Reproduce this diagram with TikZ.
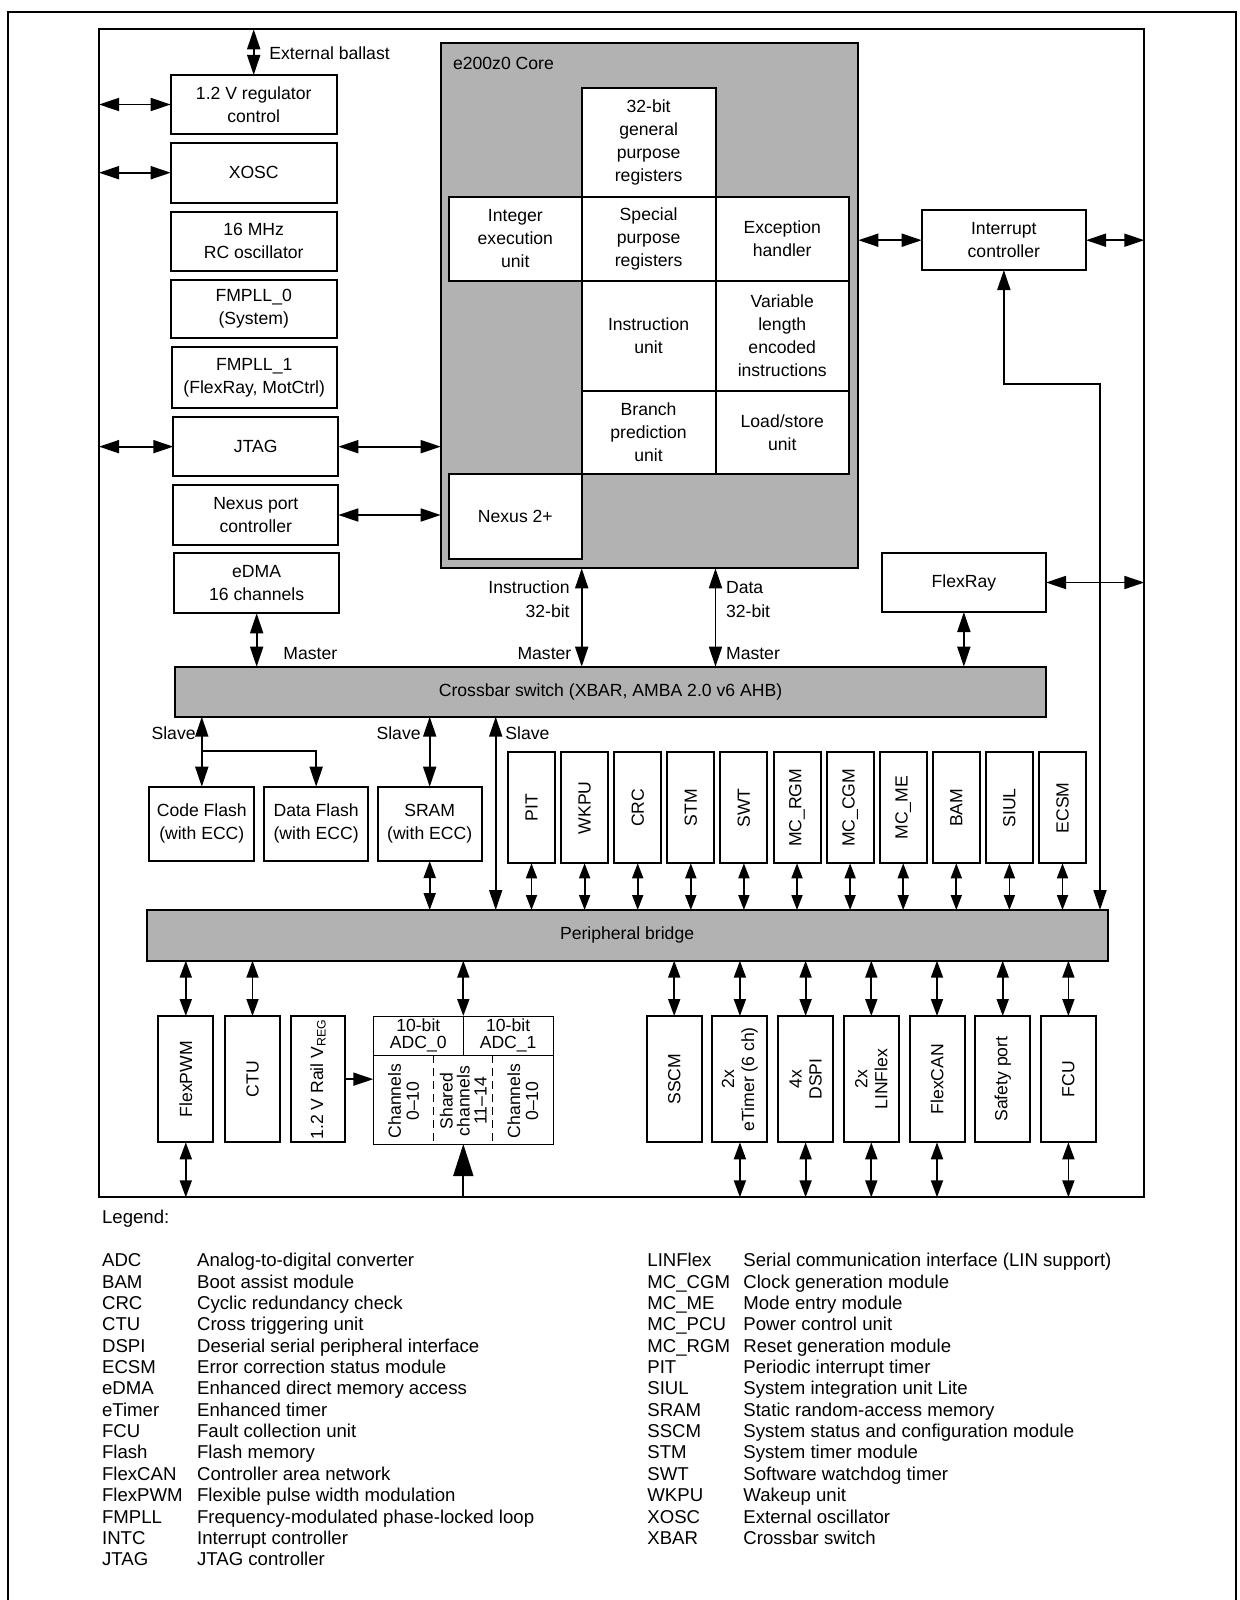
\documentclass[tikz,border=0pt]{standalone}
\usepackage{fontspec}
\setmainfont{Liberation Sans}
\usetikzlibrary{arrows.meta,calc}
\newcommand\mkbox[7][]{\node[blkbox,#1,minimum width={0.5*((#5)-(#3))*1pt},minimum height={0.5*((#6)-(#4))*1pt}] (#2) at ({((#3)+(#5))/2},{((#4)+(#6))/2}) {#7};}
\tikzset{
  blkbox/.style={draw, line width=1pt, fill=white, inner sep=0pt, outer sep=0pt, align=center, font=\fontsize{8.8}{11.5}\selectfont},
  gbox/.style={fill=black!30},
  framebox/.style={fill=none},
  thinbox/.style={line width=0.5pt},
  rot/.style={rotate=90, align=center, inner sep=0pt, font=\fontsize{8.8}{10}\selectfont},
  lbl/.style={inner sep=0pt, font=\fontsize{8.8}{11}\selectfont},
  leg/.style={inner sep=0pt, anchor=base west, font=\fontsize{9.3}{11}\selectfont},
  dbl/.style={line width=0.9pt, arrows={Triangle[length=10pt,width=6.5pt]-Triangle[length=10pt,width=6.5pt]}},
  dblm/.style={line width=0.9pt, arrows={Triangle[length=8.5pt,width=6pt]-Triangle[length=8.5pt,width=6pt]}},
  dbls/.style={line width=0.9pt, arrows={Triangle[length=7.5pt,width=5.5pt]-Triangle[length=7.5pt,width=5.5pt]}},
  sa/.style={line width=0.9pt, arrows={-Triangle[length=10pt,width=6.5pt]}},
  bigup/.style={line width=0.9pt, arrows={-Triangle[length=16pt,width=10pt]}},
}
\begin{document}
\begin{tikzpicture}[x=0.5pt,y=-0.5pt]
\useasboundingbox (0,0) rectangle (1240,1600);
% outer open frame
\draw[line width=1pt] (8.3,1600) -- (8.3,11.7) -- (1235.7,11.7) -- (1235.7,1600);
% inner frame
\mkbox[framebox]{frame}{99}{29.3}{1144.3}{1197.3}{}

% core
\mkbox[gbox]{core}{440.7}{43.3}{858.3}{568.3}{}
\node[lbl, anchor=base west] (corelbl) at (452.7,69.6) {e200z0 Core};
\mkbox{gpr}{581.7}{87.8}{715.5}{197}{32-bit\\general\\purpose\\registers}
\mkbox{ieu}{449}{197}{581.7}{281}{Integer\\execution\\unit}
\mkbox{spr}{581.7}{197}{715.5}{281}{Special\\purpose\\registers}
\mkbox{exc}{715.5}{197}{849}{281}{Exception\\handler}
\mkbox{iu}{581.7}{281}{715.5}{391}{Instruction\\unit}
\mkbox{vle}{715.5}{281}{849}{391}{Variable\\length\\encoded\\instructions}
\mkbox{bpu}{581.7}{391}{715.5}{474.4}{Branch\\prediction\\unit}
\mkbox{lsu}{715.5}{391}{849}{474.4}{Load/store\\unit}
\mkbox{nex}{449}{474.4}{581.7}{559}{Nexus 2+}

% left column
\mkbox{reg}{170.7}{75}{336.7}{134}{1.2 V regulator\\control}
\mkbox{xosc}{170.7}{142.7}{336.7}{202.7}{XOSC}
\mkbox{rc}{170.7}{211.7}{336.7}{270.7}{16 MHz\\RC oscillator}
\mkbox{pll0}{170.7}{280}{336.7}{338.3}{FMPLL\_0\\(System)}
\mkbox{pll1}{171.7}{347.3}{336.7}{408.3}{FMPLL\_1\\(FlexRay, MotCtrl)}
\mkbox{jtag}{173.3}{417.3}{338.3}{476}{JTAG}
\mkbox{npc}{173.3}{485}{338.3}{545}{Nexus port\\controller}
\mkbox{edma}{174}{553.3}{339.3}{613.3}{eDMA\\16 channels}

% right side
\mkbox{intc}{921.7}{210.4}{1086}{270}{Interrupt\\controller}
\mkbox{fr}{881.7}{553}{1046}{612}{FlexRay}

% buses
\mkbox[gbox]{xbar}{175}{666.7}{1046}{716.7}{Crossbar switch (XBAR, AMBA 2.0 v6 AHB)}
\mkbox[gbox]{bridge}{146.7}{910}{1107.5}{960.7}{Peripheral bridge}

% memories
\mkbox{cf}{149.3}{786.7}{254.3}{861}{Code Flash\\(with ECC)}
\mkbox{df}{264}{786.7}{368.3}{861}{Data Flash\\(with ECC)}
\mkbox{sram}{377.7}{786.7}{481.7}{861}{SRAM\\(with ECC)}

% top peripherals
\foreach \t [count=\i from 0] in {PIT,WKPU,CRC,STM,SWT,MC\_RGM,MC\_CGM,MC\_ME,BAM,SIUL,ECSM}{
  \mkbox{p\i}{508+\i*53.1}{752.3}{555+\i*53.1}{863.3}{\rotatebox{90}{\t}}
}
\foreach \i in {0,...,10}{\draw[dbls] (p\i.south) -- (p\i.south |- bridge.north);}

% bottom right peripherals
\foreach \t [count=\i from 0] in {SSCM,{2x\\eTimer (6 ch)},{4x\\DSPI},{2x\\LINFlex},FlexCAN,Safety port,FCU}{
  \mkbox{q\i}{646.7+\i*65.7}{1016}{701.7+\i*65.7}{1142.3}{}
  \node[rot] (qt\i) at (q\i.center) {\t};
}
\foreach \i in {0,...,6}{\draw[dblm] (q\i.north) -- (q\i.north |- bridge.south);}
\foreach \i in {1,2,3,4,6}{\draw[dblm] (q\i.south) -- (q\i.south |- frame.south);}

% bottom left peripherals
\mkbox{pwm}{158.3}{1016}{213.3}{1142.3}{}
\node[rot] (pwmt) at (pwm.center) {FlexPWM};
\mkbox{ctu}{225}{1016}{280}{1142.3}{}
\node[rot] (ctut) at (ctu.center) {CTU};
\mkbox{rail}{291}{1016}{345}{1142.3}{}
\node[rot] (railt) at (rail.center) {1.2 V Rail V\textsubscript{REG}};

% ADC
\mkbox[thinbox]{adc0}{373.3}{1016}{463.3}{1055}{}
\node[lbl, align=center, font=\fontsize{8.8}{8.5}\selectfont] (adc0t) at (adc0.center) {10-bit\\ADC\_0};
\mkbox[thinbox]{adc1}{463.3}{1016}{553}{1055}{}
\node[lbl, align=center, font=\fontsize{8.8}{8.5}\selectfont] (adc1t) at (adc1.center) {10-bit\\ADC\_1};
\mkbox[thinbox]{adcb}{373.3}{1055}{553}{1144}{}
\draw[line width=0.5pt, dash pattern=on 4pt off 2.5pt] (433.7,1055) -- (433.7,1144);
\draw[line width=0.5pt, dash pattern=on 4pt off 2.5pt] (492.7,1055) -- (492.7,1144);
\node[rot, font=\fontsize{8.8}{9}\selectfont] (ch0) at (403.5,1101) {Channels\\0--10};
\node[rot, font=\fontsize{8.8}{8.5}\selectfont] (chs) at (463.2,1101) {Shared\\channels\\11--14};
\node[rot, font=\fontsize{8.8}{9}\selectfont] (ch1) at (522.8,1101) {Channels\\0--10};
\coordinate (adcd) at (adc0.north east);

% connectors: left column
\draw[dbl] (reg.north) -- (reg.north |- frame.north);
\node[lbl, anchor=base west] (extb) at (269,59.3) {External ballast};
\draw[dbl] (frame.west |- reg.west) -- (reg.west);
\draw[dbl] (frame.west |- xosc.west) -- (xosc.west);
\draw[dbl] (frame.west |- jtag.west) -- (jtag.west);
\draw[dbl] (jtag.east) -- (core.west |- jtag.east);
\draw[dbl] (npc.east) -- (core.west |- npc.east);
\draw[dbl] (edma.south) -- (edma.south |- xbar.north);
\node[lbl, anchor=base west] (mst1) at (283,659.6) {Master};

% core to xbar
\draw[dbl] (spr.west |- core.south) -- (spr.west |- xbar.north);
\draw[dbl] (spr.east |- core.south) -- (spr.east |- xbar.north);
\node[lbl, anchor=base east] (ins1) at (570,593.6) {Instruction};
\node[lbl, anchor=base east] (ins2) at (570,617.3) {32-bit};
\node[lbl, anchor=base east] (mst2) at (571.7,659.6) {Master};
\node[lbl, anchor=base west] (dat1) at (725.7,593.6) {Data};
\node[lbl, anchor=base west] (dat2) at (725.7,617.3) {32-bit};
\node[lbl, anchor=base west] (mst3) at (725.7,659.6) {Master};

% interrupt controller and FlexRay
\draw[dbl] (core.east |- intc.west) -- (intc.west);
\draw[dbl] (intc.east) -- (frame.east |- intc.east);
\coordinate (ib) at (1100,383.7);
\draw[dbl] (intc.south) |- (ib) -- (ib |- bridge.north);
\draw[dbl] (fr.east) -- (frame.east |- fr.east);
\draw[dbl] (fr.south) -- (fr.south |- xbar.north);

% slaves
\draw[dbl] (cf.north) -- (cf.north |- xbar.south);
\coordinate (brn) at (201.8,751);
\draw[sa] (brn) -| (df.north);
\draw[dbl] (sram.north) -- (sram.north |- xbar.south);
\draw[dblm] (sram.south) -- (sram.south |- bridge.north);
\coordinate (s3) at (495.7,800);
\draw[dbl] (s3 |- xbar.south) -- (s3 |- bridge.north);
\node[lbl, anchor=base east] (sl1) at (196,739) {Slave};
\node[lbl, anchor=base east] (sl2) at (421,739) {Slave};
\node[lbl, anchor=base west] (sl3) at (505,739) {Slave};

% bottom left connectors
\draw[dblm] (pwm.north) -- (pwm.north |- bridge.south);
\draw[dblm] (pwm.south) -- (pwm.south |- frame.south);
\draw[dblm] (ctu.north) -- (ctu.north |- bridge.south);
\draw[sa] (rail.east) -- (adcb.west |- rail.east);
\draw[dblm] (adcd) -- (adcd |- bridge.south);
\draw[bigup] (adcd |- frame.south) -- (adcd |- adcb.south);

% legend
\node[leg] (legt) at (101.7,1223.4) {Legend:};
\foreach \a/\b [count=\i from 0] in {ADC/Analog-to-digital converter,BAM/Boot assist module,CRC/Cyclic redundancy check,CTU/Cross triggering unit,DSPI/Deserial serial peripheral interface,ECSM/Error correction status module,eDMA/Enhanced direct memory access,eTimer/Enhanced timer,FCU/Fault collection unit,Flash/Flash memory,FlexCAN/Controller area network,FlexPWM/Flexible pulse width modulation,FMPLL/Frequency-modulated phase-locked loop,INTC/Interrupt controller,JTAG/JTAG controller}{
  \node[leg] (la\i) at (101.7,1266.7+\i*21.36) {\a};
  \node[leg] (lb\i) at (196.7,1266.7+\i*21.36) {\b};
}
\foreach \a/\b [count=\i from 0] in {LINFlex/Serial communication interface (LIN support),MC\_CGM/Clock generation module,MC\_ME/Mode entry module,MC\_PCU/Power control unit,MC\_RGM/Reset generation module,PIT/Periodic interrupt timer,SIUL/System integration unit Lite,SRAM/Static random-access memory,SSCM/System status and configuration module,STM/System timer module,SWT/Software watchdog timer,WKPU/Wakeup unit,XOSC/External oscillator,XBAR/Crossbar switch}{
  \node[leg] (lc\i) at (647,1266.7+\i*21.36) {\a};
  \node[leg] (ld\i) at (743,1266.7+\i*21.36) {\b};
}
\end{tikzpicture}
\end{document}
